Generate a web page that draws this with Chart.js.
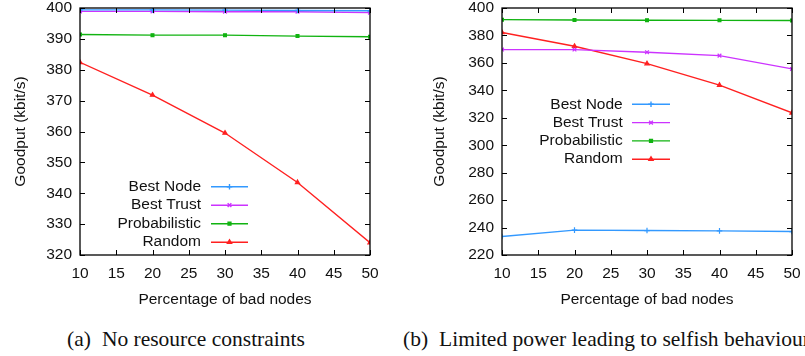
<!DOCTYPE html>
<html>
<head>
<meta charset="utf-8">
<script src="https://cdn.jsdelivr.net/npm/chart.js@4/dist/chart.umd.min.js"></script>
<style>
  html, body { margin: 0; padding: 0; background: #fff; overflow: hidden; }
  body { width: 805px; height: 356px; position: relative; }
  .box { position: absolute; top: 0; height: 320px; }
  .cap { position: absolute; top: 327px; font-family: "Liberation Serif", "Times New Roman", serif;
         font-size: 21.5px; color: #111; white-space: nowrap; }
  .cap span { margin-right: 11px; }
</style>
</head>
<body>
<div class="box" style="left:0;width:400px"><canvas id="chartA" width="400" height="320"></canvas></div>
<div class="box" style="left:400px;width:405px"><canvas id="chartB" width="405" height="320"></canvas></div>
<div class="cap" style="left:67px"><span>(a)</span>No resource constraints</div>
<div class="cap" style="left:403px"><span>(b)</span>Limited power leading to selfish behaviour</div>
<script>
// percentage of bad nodes
var badNodes = [10, 20, 30, 40, 50];
var seriesNames = ['Best Node', 'Best Trust', 'Probabilistic', 'Random'];

// (a) no resource constraints
var bestNodeA = [399.4, 399.4, 399.3, 399.2, 399.1];
var bestTrustA = [398.9, 398.9, 398.8, 398.8, 398.5];
var probabilisticA = [391.4, 391.2, 391.2, 390.9, 390.7];
var randomA = [382.4, 371.8, 359.5, 343.5, 324.0];

// (b) limited power
var bestNodeB = [233.5, 238.1, 237.8, 237.6, 237.1];
var bestTrustB = [369.7, 369.7, 367.8, 365.3, 355.6];
var probabilisticB = [391.5, 391.3, 391.1, 391.0, 390.9];
var randomB = [382.1, 372.1, 359.5, 343.8, 323.6];

var colors = ['#3399ff', '#cc33ff', '#11b311', '#ff2020'];
var markers = ['cross', 'crossRot', 'rect', 'triangle'];
var markerSize = [2.8, 2.6, 2, 2.4];
var font = 'Liberation Sans, Arial, sans-serif';

function makeSets(vals) {
   var sets = [];
   for (var i = 0; i < vals.length; i++) {
      var pts = [];
      for (var j = 0; j < badNodes.length; j++) {
         pts.push({x: badNodes[j], y: vals[i][j]});
      }
      sets.push({
         label: seriesNames[i],
         data: pts,
         borderColor: colors[i],
         backgroundColor: colors[i],
         borderWidth: 1.4,
         pointStyle: markers[i],
         pointRadius: markerSize[i],
         pointBorderWidth: 1.2,
         tension: 0
      });
   }
   return sets;
}

// gnuplot style frame, inward ticks and in-plot key
var framePlugin = {
   id: 'frame',
   afterDraw: function(chart) {
      var ctx = chart.ctx;
      var a = chart.chartArea;
      var opts = chart.options.plugins.frame;
      ctx.save();
      ctx.strokeStyle = '#000';
      ctx.lineWidth = 1.3;
      ctx.strokeRect(a.left, a.top, a.right - a.left, a.bottom - a.top);
      ctx.lineWidth = 1;
      var xs = chart.scales.x, ys = chart.scales.y;
      xs.ticks.forEach(function(t) {
         var px = Math.round(xs.getPixelForValue(t.value)) + 0.5;
         ctx.beginPath();
         ctx.moveTo(px, a.bottom); ctx.lineTo(px, a.bottom - 5);
         ctx.moveTo(px, a.top); ctx.lineTo(px, a.top + 5);
         ctx.stroke();
      });
      ys.ticks.forEach(function(t) {
         var py = Math.round(ys.getPixelForValue(t.value)) + 0.5;
         ctx.beginPath();
         ctx.moveTo(a.left, py); ctx.lineTo(a.left + 5, py);
         ctx.moveTo(a.right, py); ctx.lineTo(a.right - 5, py);
         ctx.stroke();
      });

      // key
      ctx.font = '15.5px ' + font;
      ctx.textAlign = 'right';
      ctx.textBaseline = 'middle';
      chart.data.datasets.forEach(function(ds, i) {
         var y = opts.top + i * opts.row;
         ctx.fillStyle = '#111';
         ctx.fillText(ds.label, opts.textRight, y);
         ctx.strokeStyle = ds.borderColor;
         ctx.lineWidth = 1.4;
         ctx.beginPath();
         ctx.moveTo(opts.lineStart, y);
         ctx.lineTo(opts.lineEnd, y);
         ctx.stroke();
         ctx.fillStyle = ds.backgroundColor;
         Chart.helpers.drawPoint(ctx, {
            pointStyle: ds.pointStyle, radius: ds.pointRadius, rotation: 0, borderWidth: 1.2
         }, (opts.lineStart + opts.lineEnd) / 2, y);
      });
      ctx.restore();
   }
};

function makeChart(id, sets, yMin, yMax, yStep, axisWidth, rightPad, yTitlePad, key) {
   return new Chart(document.getElementById(id), {
      type: 'line',
      data: {datasets: sets},
      plugins: [framePlugin],
      options: {
         responsive: false,
         animation: false,
         layout: {padding: {left: 0, right: rightPad, top: 8, bottom: 0}},
         plugins: {
            legend: {display: false},
            tooltip: {enabled: false},
            frame: key
         },
         scales: {
            x: {
               type: 'linear',
               min: 10, max: 50,
               grid: {display: false, drawTicks: false},
               border: {display: false},
               ticks: {stepSize: 5, color: '#111', padding: 9, maxRotation: 0, font: {family: font, size: 15.5}},
               title: {display: true, text: 'Percentage of bad nodes', color: '#111',
                       padding: {top: 0, bottom: 10.5}, font: {family: font, size: 15.5}},
               afterFit: function(s) { s.height = 65; s.paddingLeft = 0; s.paddingRight = 0; }
            },
            y: {
               min: yMin, max: yMax,
               grid: {display: false, drawTicks: false},
               border: {display: false},
               ticks: {stepSize: yStep, color: '#111', padding: 8, font: {family: font, size: 15.5}},
               title: {display: true, text: 'Goodput (kbit/s)', color: '#111',
                       padding: {top: yTitlePad, bottom: 0}, font: {family: font, size: 15.5}},
               afterFit: function(s) { s.width = axisWidth; s.paddingTop = 0; s.paddingBottom = 0; }
            }
         }
      }
   });
}

makeChart('chartA', makeSets([bestNodeA, bestTrustA, probabilisticA, randomA]),
   320, 400, 10, 80, 30, 11.5,
   {textRight: 201, lineStart: 211, lineEnd: 248, top: 186.7, row: 18.5});

makeChart('chartB', makeSets([bestNodeB, bestTrustB, probabilisticB, randomB]),
   220, 400, 20, 102, 13, 30.5,
   {textRight: 222.7, lineStart: 232, lineEnd: 270, top: 104.3, row: 18.3});
</script>
</body>
</html>
